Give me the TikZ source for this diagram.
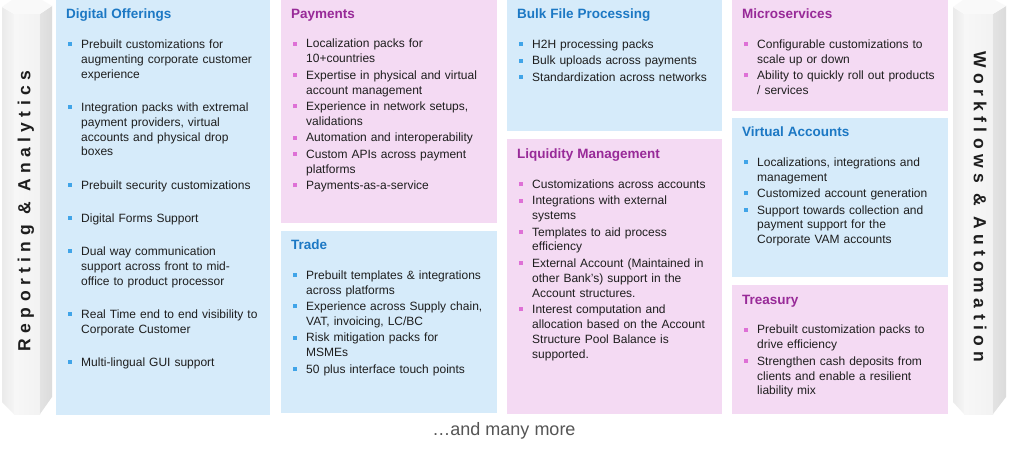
\documentclass[tikz,border=0pt]{standalone}
\usepackage{fontspec}
\setmainfont{Liberation Sans}
\newfontfamily\pillarfont[LetterSpace=31]{Liberation Sans}
\usetikzlibrary{positioning,calc}
\definecolor{TileBlue}{RGB}{214,235,250}
\definecolor{TilePink}{RGB}{244,218,243}
\definecolor{HeadBlue}{RGB}{28,120,196}
\definecolor{HeadPurple}{RGB}{152,42,152}
\definecolor{DotBlue}{RGB}{64,164,232}
\definecolor{DotPink}{RGB}{222,112,214}
\definecolor{BodyText}{RGB}{30,30,30}
\definecolor{MoreGray}{RGB}{85,85,85}

% title of a tile: colour, text, gap between items
\newcommand{\tilehead}[3]{{\color{#1}\fontsize{13.5}{16}\selectfont\bfseries #2\par}%
  \vskip\dimexpr14.5pt-#3\relax\setlength{\parskip}{#3}}
% one bullet item: bullet colour, text
\newcommand{\tileitem}[2]{\par\hangindent=15pt\hangafter=1\noindent
  \hbox to 15pt{\hskip1.5pt\textcolor{#1}{\rule[2.2pt]{4pt}{4pt}}\hss}#2\par}

\begin{document}
\begin{tikzpicture}[
    x=1pt, y=1pt,
    bluetile/.style={
        fill=TileBlue,
        anchor=north west,
        inner sep=0pt,
        outer sep=0pt
    },
    pinktile/.style={
        fill=TilePink,
        anchor=north west,
        inner sep=0pt,
        outer sep=0pt
    },
    tiletext/.style={
        anchor=north west,
        inner sep=0pt,
        text width=210pt,
        align=left,
        text=BodyText,
        font=\fontsize{12}{14.9}\selectfont
    },
    pillarlabel/.style={
        inner sep=0pt,
        text=BodyText,
        font=\pillarfont\bfseries\fontsize{17.5}{17.5}\selectfont
    }
]

\useasboundingbox[fill=white] (0,0) rectangle (1024,-452);

% =========================
% pillars
% =========================
\shade[left color=gray!16, right color=gray!8] (2,-7) -- (14,-14) -- (14,-414) -- (2,-402) -- cycle;
\shade[left color=gray!6, right color=gray!10] (14,-14) -- (40,-14) -- (40,-414) -- (14,-414) -- cycle;
\shade[left color=gray!22, right color=gray!28] (40,-14) -- (52,-6) -- (52,-397) -- (40,-414) -- cycle;
\fill[gray!5] (2,-7) -- (12,0) -- (42,0) -- (52,-6) -- (40,-14) -- (14,-14) -- cycle;
\node[pillarlabel, rotate=90] (report) at (26,-211) {Reporting \& Analytics};

\shade[left color=gray!16, right color=gray!8] (953,-7) -- (964,-14) -- (964,-414) -- (953,-402) -- cycle;
\shade[left color=gray!6, right color=gray!10] (964,-14) -- (993,-14) -- (993,-414) -- (964,-414) -- cycle;
\shade[left color=gray!22, right color=gray!28] (993,-14) -- (1006,-6) -- (1006,-397) -- (993,-414) -- cycle;
\fill[gray!5] (953,-7) -- (963,0) -- (995,0) -- (1006,-6) -- (993,-14) -- (964,-14) -- cycle;
\node[pillarlabel, rotate=-90] (workflow) at (980,-207) {Workflows \& Automation};

% =========================
% column 1
% =========================
\node[bluetile, minimum width=214pt, minimum height=415pt] (digital) at (56,0) {};
\node[tiletext] (digitaltext) at ([shift={(10,-9)}]digital.north west) {%
  \tilehead{HeadBlue}{Digital Offerings}{18.2pt}%
  \tileitem{DotBlue}{Prebuilt customizations for\newline augmenting corporate customer\newline experience}
  \tileitem{DotBlue}{Integration packs with extremal\newline payment providers, virtual\newline accounts and physical drop\newline boxes}
  \tileitem{DotBlue}{Prebuilt security customizations}
  \tileitem{DotBlue}{Digital Forms Support}
  \tileitem{DotBlue}{Dual way communication\newline support across front to mid-\newline office to product processor}
  \tileitem{DotBlue}{Real Time end to end visibility to\newline Corporate Customer}
  \tileitem{DotBlue}{Multi-lingual GUI support}};

% =========================
% column 2
% =========================
\node[pinktile, minimum width=216pt, minimum height=223pt] (payments) at (281,0) {};
\node[tiletext] (paymentstext) at ([shift={(10,-9)}]payments.north west) {%
  \tilehead{HeadPurple}{Payments}{1.5pt}%
  \tileitem{DotPink}{Localization packs for\newline 10+countries}
  \tileitem{DotPink}{Expertise in physical and virtual\newline account management}
  \tileitem{DotPink}{Experience in network setups,\newline validations}
  \tileitem{DotPink}{Automation and interoperability}
  \tileitem{DotPink}{Custom APIs across payment\newline platforms}
  \tileitem{DotPink}{Payments-as-a-service}};

\node[bluetile, minimum width=216pt, minimum height=182pt] (trade) at (281,-231) {};
\node[tiletext] (tradetext) at ([shift={(10,-9)}]trade.north west) {%
  \tilehead{HeadBlue}{Trade}{1.5pt}%
  \tileitem{DotBlue}{Prebuilt templates \& integrations\newline across platforms}
  \tileitem{DotBlue}{Experience across Supply chain,\newline VAT, invoicing, LC/BC}
  \tileitem{DotBlue}{Risk mitigation packs for\newline MSMEs}
  \tileitem{DotBlue}{50 plus interface touch points}};

% =========================
% column 3
% =========================
\node[bluetile, minimum width=215pt, minimum height=131pt] (bulk) at (507,0) {};
\node[tiletext] (bulktext) at ([shift={(10,-9)}]bulk.north west) {%
  \tilehead{HeadBlue}{Bulk File Processing}{1.5pt}%
  \tileitem{DotBlue}{H2H processing packs}
  \tileitem{DotBlue}{Bulk uploads across payments}
  \tileitem{DotBlue}{Standardization across networks}};

\node[pinktile, minimum width=215pt, minimum height=275pt] (liquidity) at (507,-139) {};
\node[tiletext] (liquiditytext) at ([shift={(10,-10)}]liquidity.north west) {%
  \tilehead{HeadPurple}{Liquidity Management}{1.5pt}%
  \tileitem{DotPink}{Customizations across accounts}
  \tileitem{DotPink}{Integrations with external\newline systems}
  \tileitem{DotPink}{Templates to aid process\newline efficiency}
  \tileitem{DotPink}{External Account (Maintained in\newline other Bank's) support in the\newline Account structures.}
  \tileitem{DotPink}{Interest computation and\newline allocation based on the Account\newline Structure Pool Balance is\newline supported.}};

% =========================
% column 4
% =========================
\node[pinktile, minimum width=216pt, minimum height=111pt] (micro) at (732,0) {};
\node[tiletext] (microtext) at ([shift={(10,-9)}]micro.north west) {%
  \tilehead{HeadPurple}{Microservices}{1.5pt}%
  \tileitem{DotPink}{Configurable customizations to\newline scale up or down}
  \tileitem{DotPink}{Ability to quickly roll out products\newline / services}};

\node[bluetile, minimum width=216pt, minimum height=159pt] (virtual) at (732,-118) {};
\node[tiletext] (virtualtext) at ([shift={(10,-9)}]virtual.north west) {%
  \tilehead{HeadBlue}{Virtual Accounts}{1.5pt}%
  \tileitem{DotBlue}{Localizations, integrations and\newline management}
  \tileitem{DotBlue}{Customized account generation}
  \tileitem{DotBlue}{Support towards collection and\newline payment support for the\newline Corporate VAM accounts}};

\node[pinktile, minimum width=216pt, minimum height=129pt] (treasury) at (732,-285) {};
\node[tiletext] (treasurytext) at ([shift={(10,-10)}]treasury.north west) {%
  \tilehead{HeadPurple}{Treasury}{1.5pt}%
  \tileitem{DotPink}{Prebuilt customization packs to\newline drive efficiency}
  \tileitem{DotPink}{Strengthen cash deposits from\newline clients and enable a resilient\newline liability mix}};

% bottom note
\node[text=MoreGray, font=\fontsize{18}{18}\selectfont] (more) at (504,-431) {…and many more};

\end{tikzpicture}
\end{document}
